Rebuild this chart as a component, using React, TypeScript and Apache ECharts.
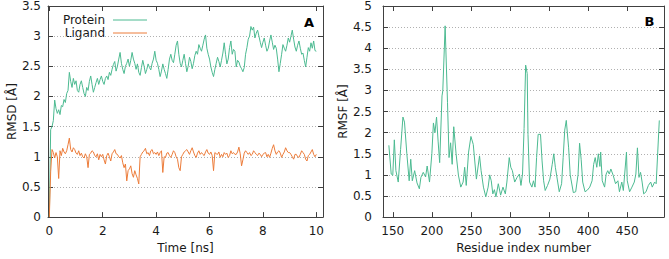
import React, { useEffect, useRef } from "react";
import * as echarts from "echarts";

// ---- Data (panel A: RMSD vs time, sampled every 0.05 ns) ----
const TIME_STEP = 0.05;
const proteinRmsd = [
  0.0, 1.45, 1.5, 1.6, 1.94, 1.8, 1.72, 1.78, 1.7, 1.85, 1.83, 1.95, 1.9, 2.05, 2.1, 2.4, 2.25, 2.15, 2.3, 2.2,
  2.26, 2.1, 2.07, 2.2, 2.26, 2.15, 2.05, 2.0, 2.15, 2.1, 2.25, 2.34, 2.2, 2.07, 2.15, 2.23, 2.3, 2.2, 2.28, 2.34,
  2.25, 2.2, 2.3, 2.34, 2.28, 2.4, 2.35, 2.45, 2.53, 2.58, 2.42, 2.5, 2.62, 2.73, 2.55, 2.45, 2.38, 2.5, 2.55, 2.62,
  2.5, 2.6, 2.73, 2.62, 2.55, 2.45, 2.54, 2.4, 2.35, 2.48, 2.6, 2.5, 2.38, 2.45, 2.54, 2.48, 2.44, 2.55, 2.62, 2.75,
  2.6, 2.55, 2.45, 2.33, 2.42, 2.54, 2.45, 2.38, 2.3, 2.45, 2.62, 2.7, 2.6, 2.56, 2.7, 2.85, 2.92, 2.7, 2.55, 2.49,
  2.6, 2.7, 2.55, 2.41, 2.5, 2.65, 2.58, 2.46, 2.55, 2.68, 2.75, 2.7, 2.86, 2.8, 2.75, 2.85, 2.95, 3.02, 2.8, 2.7,
  2.62, 2.49, 2.4, 2.33, 2.45, 2.55, 2.65, 2.58, 2.49, 2.6, 2.72, 2.89, 2.7, 2.54, 2.62, 2.81, 2.92, 2.7, 2.78, 2.75,
  2.49, 2.6, 2.57, 2.5, 2.46, 2.41, 2.48, 2.7, 2.81, 2.95, 3.0, 3.16, 3.1, 3.15, 2.97, 3.05, 3.1, 3.0, 2.9, 2.81,
  2.9, 2.97, 2.85, 2.75, 2.8, 2.92, 3.02, 2.9, 2.78, 2.85, 2.8, 2.62, 2.41, 2.55, 2.7, 2.86, 2.8, 2.75, 2.85, 2.97,
  2.9, 3.0, 3.1, 2.95, 2.82, 2.75, 2.85, 2.92, 2.8, 2.7, 2.72, 2.6, 2.49, 2.65, 2.81, 2.75, 2.89, 2.8, 2.92, 2.76, 2.75,
];
const ligandRmsd = [
  0.0, 0.75, 1.12, 1.07, 0.98, 1.07, 1.0, 0.64, 1.1, 1.02, 1.14, 1.08, 1.05, 1.1, 1.2, 1.31, 1.12, 1.08, 1.15, 1.12,
  1.06, 1.04, 1.1, 1.02, 1.06, 1.0, 0.98, 1.05, 1.0, 0.82, 1.04, 1.06, 1.1, 1.08, 1.02, 1.0, 1.05, 0.95, 1.04, 1.0,
  1.04, 0.95, 0.88, 1.02, 1.06, 1.0, 0.93, 1.05, 1.08, 1.12, 1.05, 1.04, 1.0, 0.98, 1.02, 0.9, 0.82, 0.88, 0.6, 0.77,
  0.8, 0.85, 0.72, 0.66, 0.77, 0.7, 0.64, 0.55, 1.0, 1.04, 1.08, 1.1, 1.14, 1.05, 1.07, 1.02, 1.1, 1.12, 1.05, 1.07,
  1.04, 1.08, 1.02, 1.07, 1.1, 0.74, 1.0, 0.99, 1.06, 1.07, 1.02, 0.99, 1.04, 1.1, 1.07, 1.0, 0.96, 0.82, 0.77, 1.0,
  1.04, 1.08, 1.1, 1.12, 1.08, 1.04, 1.1, 1.15, 1.08, 1.02, 0.99, 1.06, 1.1, 1.04, 1.07, 1.04, 1.02, 1.08, 1.12, 1.06,
  1.04, 1.08, 1.02, 0.77, 1.07, 1.05, 1.04, 1.08, 0.99, 1.04, 1.0, 1.07, 1.04, 1.06, 0.99, 1.02, 1.1, 1.05, 1.07, 1.04,
  1.04, 1.08, 1.16, 1.05, 0.85, 0.95, 1.06, 1.1, 1.07, 1.04, 1.07, 1.02, 1.04, 1.1, 1.07, 1.04, 1.02, 1.06, 1.04, 1.0,
  1.04, 1.06, 1.07, 1.0, 1.04, 0.99, 1.06, 1.14, 1.2, 1.1, 1.04, 1.08, 1.1, 1.06, 0.99, 1.04, 1.08, 1.15, 1.1, 1.07,
  1.07, 1.04, 1.0, 0.96, 1.04, 1.04, 1.0, 0.99, 1.04, 1.1, 1.07, 1.04, 0.96, 0.93, 1.02, 1.04, 1.08, 1.12, 1.04, 1.0, 1.04,
];

// ---- Data (panel B: RMSF per residue) ----
const residues = [
  145, 148, 150, 152, 154, 157, 160, 163, 165, 168, 171, 173, 175, 178, 181, 184, 186, 189, 192, 194,
  197, 200, 202, 204, 206, 208, 210, 213, 214, 217, 220, 222, 224, 226, 228, 231, 234, 237, 240, 242,
  244, 247, 250, 253, 257, 261, 263, 266, 269, 272, 274, 276, 278, 280, 282, 285, 288, 291, 294, 296,
  299, 301, 303, 306, 309, 312, 314, 316, 318, 320, 322, 323, 325, 328, 330, 332, 334, 336, 339, 341,
  343, 345, 348, 351, 354, 356, 358, 361, 363, 366, 368, 370, 372, 375, 377, 381, 384, 387, 389, 391,
  393, 396, 399, 402, 405, 407, 409, 411, 413, 415, 416, 418, 421, 423, 425, 427, 429, 432, 435, 438,
  440, 443, 445, 449, 450, 453, 456, 459, 461, 463, 465, 467, 469, 471, 474, 477, 480, 482, 485, 487,
  489, 491,
];
const rmsf = [
  1.7, 1.02, 0.99, 1.83, 1.1, 0.83, 1.6, 2.37, 2.25, 1.5, 0.86, 1.37, 0.86, 1.1, 0.81, 0.67, 0.94, 1.06, 0.95, 1.21,
  0.83, 1.5, 2.23, 2.0, 2.37, 1.8, 1.29, 2.87, 2.99, 4.53, 2.72, 1.41, 1.76, 1.25, 2.14, 1.5, 0.99, 0.71, 0.83, 1.18,
  0.75, 1.54, 1.91, 1.72, 0.9, 1.45, 1.1, 0.71, 0.48, 0.71, 1.0, 0.86, 0.55, 0.65, 0.48, 0.79, 0.52, 0.71, 0.55, 0.83,
  1.41, 1.18, 1.1, 0.83, 0.94, 1.02, 0.75, 1.02, 2.1, 3.6, 3.4, 1.96, 0.83, 0.71, 0.86, 0.71, 1.41, 1.96, 1.96, 1.33,
  0.86, 0.63, 0.75, 0.9, 1.25, 1.5, 1.18, 0.83, 0.6, 0.79, 1.41, 2.06, 2.29, 1.64, 1.0, 0.58, 0.6, 1.0, 1.75, 1.37,
  0.83, 0.6, 0.64, 0.71, 0.86, 1.25, 1.41, 1.18, 1.5, 1.2, 1.54, 0.86, 0.71, 1.02, 1.1, 1.02, 1.14, 0.99, 0.79, 0.86,
  0.6, 0.83, 0.63, 1.54, 0.86, 0.6, 0.71, 0.83, 1.02, 1.64, 0.94, 1.06, 0.83, 0.55, 0.6, 0.75, 0.83, 0.71, 0.83, 0.79,
  1.54, 2.29,
];

const timeTicks = [0, 2, 4, 6, 8, 10];
const residueTicks = [150, 200, 250, 300, 350, 400, 450];

const GREEN = "#4cba91";
const ORANGE = "#ec7c3a";
const FRAME = "#404040";
const TEXT = "#1a1a1a";
const FONT = "DejaVu Sans";

export default function App() {
  const ref = useRef<HTMLDivElement>(null);

  useEffect(() => {
    if (!ref.current) return;
    const chart = echarts.init(ref.current, undefined, { renderer: "svg" });

    const labelStyle = { fontSize: 12, fontFamily: FONT, color: TEXT };
    const tick = { show: true, inside: true, length: 5, lineStyle: { color: FRAME, width: 1 } };
    const line = { show: true, onZero: false, lineStyle: { color: FRAME, width: 1 } };
    const split = { show: true, lineStyle: { color: "#b0b0b0", width: 1, type: [1, 2] as any } };

    const xPair = (grid: number, min: number, max: number, ticks: number[], name: string, gap: number) => [
      {
        gridIndex: grid, type: "value", min, max, position: "bottom",
        axisLine: line,
        axisTick: { ...tick, customValues: ticks },
        axisLabel: { ...labelStyle, margin: 8, customValues: ticks },
        splitLine: { show: false },
        name, nameLocation: "middle", nameGap: gap,
        nameTextStyle: { fontSize: 12, fontFamily: FONT, color: TEXT },
      },
      {
        gridIndex: grid, type: "value", min, max, position: "top",
        axisLine: line,
        axisTick: { ...tick, customValues: ticks },
        axisLabel: { show: false },
        splitLine: { show: false },
      },
    ];
    const yPair = (grid: number, max: number, name: string, margin: number, gap: number) => [
      {
        gridIndex: grid, type: "value", min: 0, max, interval: 0.5, position: "left",
        axisLine: line, axisTick: tick,
        axisLabel: { ...labelStyle, margin },
        splitLine: split,
        name, nameLocation: "middle", nameGap: gap,
        nameTextStyle: { fontSize: 12, fontFamily: FONT, color: TEXT },
      },
      {
        gridIndex: grid, type: "value", min: 0, max, interval: 0.5, position: "right",
        axisLine: line, axisTick: tick,
        axisLabel: { show: false },
        splitLine: { show: false },
      },
    ];

    chart.setOption({
      animation: false,
      backgroundColor: "#ffffff",
      grid: [
        { left: 48, top: 6, width: 275, height: 215 },
        { left: 383, top: 6, width: 281, height: 216 },
      ],
      xAxis: [
        ...xPair(0, -0.05, 10.25, timeTicks, "Time [ns]", 22),
        ...xPair(1, 137.5, 497, residueTicks, "Residue index number", 23),
      ],
      yAxis: [
        ...yPair(0, 3.5, "RMSD [Å]", 7, 30),
        ...yPair(1, 5, "RMSF [Å]", 11, 34),
      ],
      series: [
        {
          name: "Protein", type: "line", xAxisIndex: 0, yAxisIndex: 0,
          symbol: "none", showSymbol: false,
          lineStyle: { color: GREEN, width: 1 }, itemStyle: { color: GREEN },
          data: proteinRmsd.map((v, i) => [+(i * TIME_STEP).toFixed(2), v]),
        },
        {
          name: "Ligand", type: "line", xAxisIndex: 0, yAxisIndex: 0,
          symbol: "none", showSymbol: false,
          lineStyle: { color: ORANGE, width: 1 }, itemStyle: { color: ORANGE },
          data: ligandRmsd.map((v, i) => [+(i * TIME_STEP).toFixed(2), v]),
        },
        {
          name: "RMSF", type: "line", xAxisIndex: 2, yAxisIndex: 2,
          symbol: "none", showSymbol: false,
          lineStyle: { color: GREEN, width: 1 }, itemStyle: { color: GREEN },
          data: residues.map((r, i) => [r, rmsf[i]]),
        },
      ],
      graphic: [
        { type: "text", x: 105, y: 20, style: { text: "Protein", fontSize: 12, fontFamily: FONT, fill: TEXT, align: "right", verticalAlign: "middle" } },
        { type: "line", shape: { x1: 113, y1: 20, x2: 147, y2: 20 }, style: { stroke: GREEN, lineWidth: 1 } },
        { type: "text", x: 105, y: 33, style: { text: "Ligand", fontSize: 12, fontFamily: FONT, fill: TEXT, align: "right", verticalAlign: "middle" } },
        { type: "line", shape: { x1: 113, y1: 33, x2: 147, y2: 33 }, style: { stroke: ORANGE, lineWidth: 1 } },
        { type: "text", x: 309, y: 22, style: { text: "A", fontSize: 13, fontWeight: "bold", fontFamily: FONT, fill: "#000", align: "center", verticalAlign: "middle" } },
        { type: "text", x: 649.5, y: 21.5, style: { text: "B", fontSize: 13, fontWeight: "bold", fontFamily: FONT, fill: "#000", align: "center", verticalAlign: "middle" } },
      ],
    });

    return () => chart.dispose();
  }, []);

  return (
    <div
      ref={ref}
      style={{ position: "fixed", left: 0, top: 0, width: 669, height: 259, background: "#fff" }}
    />
  );
}
